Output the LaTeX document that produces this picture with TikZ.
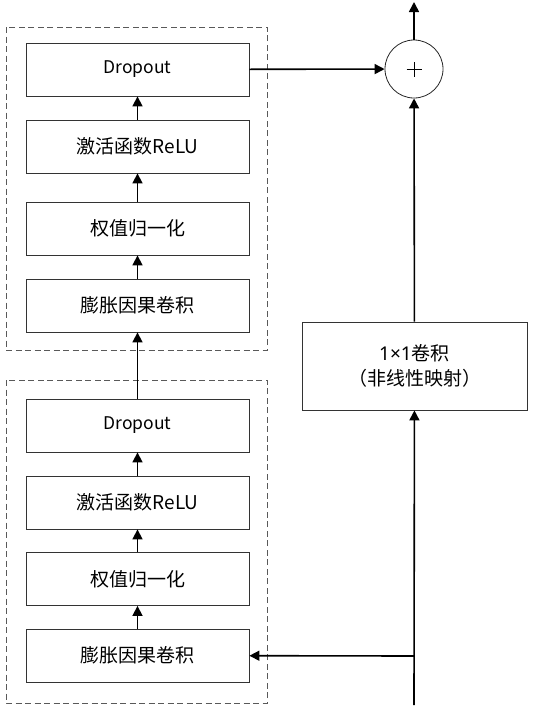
\documentclass[tikz,border=0pt]{standalone}
\usepackage{fontspec}
\setmainfont{Noto Sans CJK SC}
\newfontfamily\latinfont{Noto Sans}
\usetikzlibrary{arrows.meta}
\begin{document}
\begin{tikzpicture}[x=1pt,y=-1pt,
  blk/.style={draw=black!80,line width=0.8pt,minimum width=223pt,minimum height=53pt,inner sep=0pt,font=\fontsize{19}{22}\selectfont},
  grp/.style={draw=black!65,line width=0.9pt,dash pattern=on 6pt off 3.5pt},
  arr/.style={line width=1.6pt,-{Triangle[length=10pt,width=10pt]}},
  ln/.style={line width=1.6pt}]
\useasboundingbox (0,0) rectangle (533,713);
% dashed groups
\draw[grp] (6,27) rectangle (267,350);
\draw[grp] (6,380) rectangle (267,703);
% top stack
\node[blk] (d1) at (137.5,69.5) {\fontsize{17.5}{20}\selectfont Dropout};
\node[blk] (r1) at (137.5,146.5) {激活函数ReLU};
\node[blk] (w1) at (137.5,228.5) {权值归一化};
\node[blk] (c1) at (137.5,305.5) {膨胀因果卷积};
% bottom stack
\node[blk] (d2) at (137.5,425.5) {\fontsize{17.5}{20}\selectfont Dropout};
\node[blk] (r2) at (137.5,502.5) {激活函数ReLU};
\node[blk] (w2) at (137.5,579) {权值归一化};
\node[blk] (c2) at (137.5,655.5) {膨胀因果卷积};
% residual
\node[draw=black!85,line width=0.8pt,circle,minimum size=58pt,inner sep=0pt] (add) at (414,69) {};
\draw[line width=0.5pt] ([xshift=-7.5pt]add.center) -- ([xshift=7.5pt]add.center)
  ([yshift=-7.5pt]add.center) -- ([yshift=7.5pt]add.center);
\node[draw=black!80,line width=0.8pt,minimum width=225pt,minimum height=88pt,inner sep=0pt,align=center,font=\fontsize{19}{25}\selectfont] (one) at (414.5,366) {{\latinfont 1×1}卷积\\（非线性映射）};
\coordinate (in) at (414,705);
\coordinate (br) at (414,656);
\coordinate (out) at (414,2);
% arrows
\draw[arr] (c2) -- (w2);
\draw[arr] (w2) -- (r2);
\draw[arr] (r2) -- (d2);
\draw[arr] (d2) -- (c1);
\draw[arr] (c1) -- (w1);
\draw[arr] (w1) -- (r1);
\draw[arr] (r1) -- (d1);
\draw[arr] (d1) -- (add);
\draw[arr] (in) -- (one);
\draw[arr] (br) -- (c2);
\draw[arr] (one) -- (add);
\draw[arr] (add) -- (out);
\end{tikzpicture}
\end{document}
